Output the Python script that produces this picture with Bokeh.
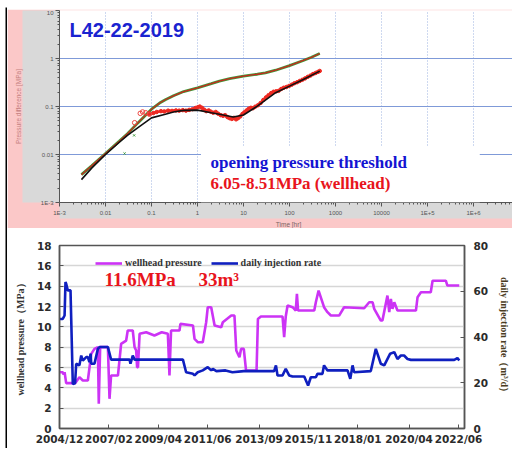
import math
from bokeh.plotting import figure
from bokeh.models import (Range1d, LinearAxis, FixedTicker, CustomJSTickFormatter, Label,
                          Title, BoxAnnotation, Legend, LegendItem, Spacer)
from bokeh.layouts import column, row
from bokeh.embed import file_html
from bokeh.resources import INLINE

# ---------------- top panel data (log-log diagnostic) ----------------
t_dp = [0.003, 0.005, 0.01, 0.02, 0.03, 0.05, 0.1, 0.15, 0.2, 0.3, 0.5, 1, 2, 3, 5, 10, 20, 30,
        50, 100, 200, 300, 455]
dp = [0.0038, 0.0058, 0.0105, 0.019, 0.027, 0.045, 0.088, 0.118, 0.138, 0.167, 0.205, 0.245,
      0.30, 0.338, 0.38, 0.43, 0.47, 0.50, 0.57, 0.71, 0.91, 1.06, 1.27]

t_model = [0.003, 0.005, 0.01, 0.02, 0.03, 0.05, 0.1, 0.2, 0.3, 0.5, 1, 2, 3, 6, 10, 20, 50,
           100, 200, 455]
deriv_model = [0.003, 0.0052, 0.0100, 0.018, 0.025, 0.036, 0.058, 0.069, 0.077, 0.083, 0.084,
               0.074, 0.069, 0.0605, 0.0666, 0.102, 0.194, 0.266, 0.366, 0.545]

t_deriv = [0.09, 0.11, 0.13, 0.16, 0.19, 0.23, 0.28, 0.34, 0.4, 0.48, 0.56, 0.66, 0.78, 0.9,
           1.02, 1.12, 1.25, 1.4, 1.55, 1.75, 1.95, 2.2, 2.5, 2.8, 3.2, 3.6, 4.0, 4.5, 5.0,
           5.6, 6.2, 6.9, 7.6, 8.5, 9.5, 10.5, 11.7, 13, 14.5, 16, 18, 20.5, 23.5, 27, 31,
           35, 40, 45, 51, 58, 66, 75, 86, 98, 112, 128, 146, 167, 190, 218, 250, 285, 325,
           370, 415, 455]
deriv = [0.070, 0.073, 0.077, 0.080, 0.079, 0.082, 0.081, 0.083, 0.082, 0.084, 0.082, 0.085,
         0.088, 0.093, 0.097, 0.100, 0.094, 0.086, 0.080, 0.083, 0.078, 0.074, 0.077, 0.071,
         0.066, 0.064, 0.066, 0.060, 0.057, 0.055, 0.058, 0.054, 0.057, 0.062, 0.070, 0.076,
         0.083, 0.090, 0.094, 0.092, 0.099, 0.106, 0.118, 0.137, 0.155, 0.172, 0.19, 0.203,
         0.207, 0.212, 0.232, 0.246, 0.255, 0.268, 0.285, 0.305, 0.32, 0.34, 0.36, 0.385,
         0.415, 0.44, 0.475, 0.50, 0.525, 0.55]

t_circ = [0.043, 0.057, 0.064, 0.075, 0.09]
circ = [0.046, 0.072, 0.077, 0.074, 0.069]
t_green = [0.026, 0.042]
green_pts = [0.0105, 0.025]

top_x_ticks = [1e-3, 1e-2, 1e-1, 1, 10, 100, 1000, 10000, 1e5, 1e6, 1e7]
top_x_labels = ["1E-3", "0.01", "0.1", "1", "10", "100", "1000", "10000", "1E+5", "1E+6", "1E+7"]
top_y_ticks = [1e-3, 1e-2, 1e-1, 1, 10]
top_y_labels = ["1E-3", "0.01", "0.1", "1", "10"]

# ---------------- bottom panel data (time series) ----------------
p_year = [2004.87, 2005.06, 2005.10, 2005.14, 2005.21, 2005.60, 2005.79, 2005.94, 2006.16,
          2006.31, 2006.45, 2006.60, 2006.64, 2006.70, 2007.04, 2007.11, 2007.18, 2007.48,
          2007.62, 2007.84, 2007.91, 2008.13, 2008.21, 2008.28, 2008.32, 2008.36, 2008.43,
          2008.72, 2009.08, 2009.40, 2009.67, 2009.74, 2009.81, 2010.18, 2010.22, 2010.77,
          2010.84, 2010.98, 2011.20, 2011.35, 2011.42, 2011.57, 2011.72, 2012.01, 2012.08,
          2012.45, 2012.59, 2012.67, 2012.81, 2012.88, 2013.00, 2013.10, 2013.56, 2013.62,
          2013.75, 2014.70, 2014.77, 2014.84, 2014.92, 2015.14, 2015.28, 2015.33, 2015.38,
          2016.09, 2016.16, 2016.28, 2016.52, 2016.67, 2016.82, 2017.18, 2017.40, 2018.28,
          2018.50, 2018.65, 2018.72, 2019.01, 2019.08, 2019.30, 2019.38, 2019.45, 2019.52,
          2019.60, 2019.74, 2020.55, 2020.62, 2020.77, 2021.20, 2021.28, 2021.86, 2021.93,
          2022.45]
p_val = [5.54, 5.54, 5.30, 5.54, 4.46, 4.46, 5.05, 4.72, 4.72,
         7.34, 7.83, 8.00, 2.43, 8.00, 8.00, 2.92, 5.21, 5.21,
         8.32, 8.65, 9.64, 9.64, 8.00, 7.67, 6.03, 6.03, 9.31,
         9.47, 9.15, 9.47, 9.31, 5.21, 9.64, 9.64, 10.29, 10.13,
         8.82, 8.49, 8.49, 10.45, 11.93, 11.93, 10.13, 9.96, 10.45,
         11.11, 11.11, 7.67, 7.01, 7.83, 7.83, 5.70, 5.70, 10.78,
         11.01, 11.01, 8.98, 11.01, 12.09, 11.93, 11.60, 13.24, 11.60,
         11.60, 12.42, 13.57, 11.93, 11.44, 11.11, 11.11, 11.93, 11.83,
         12.42, 12.42, 11.77, 10.62, 10.62, 13.07, 11.44, 12.75, 11.77,
         12.42, 11.60, 11.60, 12.90, 13.40, 13.40, 14.54, 14.54, 14.06,
         14.06]

q_year = [2004.87, 2005.06, 2005.14, 2005.18, 2005.21, 2005.28, 2005.40, 2005.50, 2005.60,
          2005.65, 2005.79, 2005.87, 2005.94, 2006.09, 2006.16, 2006.23, 2006.28, 2006.31,
          2006.45, 2006.60, 2006.67, 2007.04, 2007.18, 2007.99, 2008.03, 2008.13, 2008.21,
          2010.33, 2010.47, 2010.77, 2010.84, 2010.98, 2011.20, 2011.42, 2011.57, 2011.64,
          2011.80, 2012.20, 2012.50, 2013.00, 2014.33, 2014.41, 2014.48, 2014.70, 2014.84,
          2014.99, 2015.14, 2015.65, 2015.82, 2015.94, 2016.16, 2016.23, 2016.45, 2016.52,
          2016.67, 2017.55, 2017.67, 2017.77, 2017.84, 2018.57, 2018.79, 2019.01, 2019.16,
          2019.42, 2019.60, 2019.74, 2019.89, 2020.03, 2020.18, 2020.33, 2022.23, 2022.37,
          2022.45]
q_val = [47.9, 47.9, 49.4, 64.0, 63.3, 60.4, 60.4, 19.5, 19.8,
         28.3, 27.6, 31.9, 29.7, 31.2, 31.2, 29.0, 32.7, 28.3,
         28.3, 34.8, 35.6, 35.6, 30.1, 30.1, 28.3, 31.9, 30.1,
         30.1, 24.6, 23.9, 23.2, 24.6, 25.4, 26.8, 25.4, 26.1,
         25.1, 25.4, 24.6, 25.1, 25.1, 27.6, 23.2, 23.2, 26.1,
         23.2, 22.7, 22.7, 18.8, 22.4, 22.4, 23.9, 23.9, 27.6,
         25.4, 25.4, 21.7, 27.6, 24.6, 25.1, 34.8, 28.3, 27.6,
         32.7, 33.4, 30.4, 31.9, 31.9, 30.4, 30.0, 30.0, 30.8,
         29.7]

date_ticks = [2004.917, 2007.083, 2009.25, 2011.417, 2013.667, 2015.833, 2018.0, 2020.25, 2022.417]
date_labels = ["2004/12", "2007/02", "2009/04", "2011/06", "2013/09", "2015/11", "2018/01",
               "2020/04", "2022/06"]
pressure_ticks = [0, 2, 4, 6, 8, 10, 12, 14, 16, 18]
rate_ticks = [0, 20, 40, 60, 80]

PINK = "#fbc8c8"
GREY = "#d9d9d9"
MAGENTA = "#cc33f5"
BLUE = "#0f1fbf"

LOG_JS = """
const lt = Math.log10(tick);
for (let i = 0; i < vals.length; i++) {
  if (Math.abs(Math.log10(vals[i]) - lt) < 1e-6) return labs[i];
}
return "";
"""
LIN_JS = """
for (let i = 0; i < vals.length; i++) {
  if (Math.abs(vals[i] - tick) < 1e-6) return labs[i];
}
return "";
"""


def black_bar(w, h):
    f = figure(width=w, height=h, output_backend="svg", toolbar_location=None, title=None,
               x_axis_location=None, y_axis_location=None, min_border=0,
               background_fill_color="black", border_fill_color="black",
               outline_line_color=None)
    f.grid.visible = False
    return f


# ---------------- top figure ----------------
top = figure(frame_width=458, frame_height=192, x_axis_type="log", y_axis_type="log",
             x_range=Range1d(1e-3, 9.06e6), y_range=Range1d(1e-3, 10),
             output_backend="svg", toolbar_location=None, title=None,
             min_border_left=43, min_border_right=0, min_border_top=1, min_border_bottom=26,
             border_fill_color=PINK, background_fill_color="white", outline_line_color=None)

minor_x = [m * 10.0 ** e for e in range(-3, 7) for m in range(2, 10)]
minor_y = [m * 10.0 ** e for e in range(-3, 1) for m in range(2, 10)]

xa = top.xaxis[0]
xa.ticker = FixedTicker(ticks=top_x_ticks, minor_ticks=minor_x)
xa.formatter = CustomJSTickFormatter(args=dict(vals=top_x_ticks, labs=top_x_labels), code=LOG_JS)
ya = top.yaxis[0]
ya.ticker = FixedTicker(ticks=top_y_ticks, minor_ticks=minor_y)
ya.formatter = CustomJSTickFormatter(args=dict(vals=top_y_ticks, labs=top_y_labels), code=LOG_JS)

for ax in (xa, ya):
    ax.background_fill_color = GREY
    ax.major_label_text_font = "Liberation Sans"
    ax.major_label_text_font_size = "6px"
    ax.major_label_text_color = "#555555"
    ax.axis_line_color = "#555555"
    ax.major_tick_line_color = "#555555"
    ax.minor_tick_line_color = "#555555"
    ax.major_tick_in = 0
    ax.major_tick_out = 4
    ax.minor_tick_in = 0
    ax.minor_tick_out = 2
xa.major_label_standoff = 3
ya.major_label_standoff = 2
ya.axis_label = " "
ya.axis_label_text_font_size = "9px"
ya.axis_label_standoff = 2

top.xgrid.grid_line_color = "#9db2e0"
top.xgrid.grid_line_dash = "1 2"
top.xgrid.grid_line_width = 1
top.ygrid.grid_line_color = "#7f9ad8"
top.ygrid.grid_line_width = 1

top.add_layout(Title(text="Pressure difference [MPa]", align="center", text_font="Liberation Sans",
                     text_font_size="6.5px", text_font_style="normal", text_color="#c58080",
                     standoff=1), "left")
top.add_layout(Title(text="Time [hr]", align="center", text_font="Liberation Sans",
                     text_font_size="6.5px", text_font_style="normal", text_color="#7a6464",
                     standoff=1), "below")

top.line(t_dp, dp, line_color="#3f9a3a", line_width=2.8)
top.line(t_dp, dp, line_color="#c8281e", line_width=1.3)
top.line(t_deriv, deriv, line_color="#ee2a22", line_width=2.6)
top.scatter(t_deriv, deriv, size=3.5, color="#ee2a22")
top.scatter(t_circ, circ, size=4.5, marker="circle", fill_color=None, line_color="#ee4a44",
            line_width=1)
top.scatter(t_green, green_pts, size=3, marker="x", line_color="#3f9a3a", line_width=1)
top.line(t_model, deriv_model, line_color="#111111", line_width=1.6)

top.add_layout(BoxAnnotation(left=1.19, right=1.37e6, bottom=1e-3, top=0.0151,
                             fill_color="white", fill_alpha=1.0, line_color=None))
top.add_layout(Label(x=10, y=173, x_units="screen", y_units="screen", text="L42-22-2019",
                     text_font="Liberation Sans", text_font_style="bold", text_font_size="20px",
                     text_color="#1a23d0", text_baseline="middle"))
top.add_layout(Label(x=151, y=40, x_units="screen", y_units="screen",
                     text="opening pressure threshold", text_font="Liberation Serif",
                     text_font_style="bold", text_font_size="17px", text_color="#1414d2",
                     text_baseline="middle"))
top.add_layout(Label(x=151, y=19, x_units="screen", y_units="screen",
                     text="6.05-8.51MPa (wellhead)", text_font="Liberation Serif",
                     text_font_style="bold", text_font_size="17px", text_color="#e8141c",
                     text_baseline="middle"))

# ---------------- bottom figure ----------------
bot = figure(frame_width=405, frame_height=183, x_range=Range1d(2004.917, 2022.68),
             y_range=Range1d(0, 18),
             output_backend="svg", toolbar_location=None, title=None,
             min_border_left=52, min_border_right=44, min_border_top=17, min_border_bottom=20,
             border_fill_color="white", background_fill_color="white",
             outline_line_color="#555555", outline_line_width=1.5)
bot.extra_y_ranges = {"rate": Range1d(0, 80)}
rax = LinearAxis(y_range_name="rate")
bot.add_layout(rax, "right")

bot.xaxis[0].ticker = FixedTicker(ticks=date_ticks)
bot.xaxis[0].formatter = CustomJSTickFormatter(args=dict(vals=date_ticks, labs=date_labels),
                                               code=LIN_JS)
bot.yaxis[0].ticker = FixedTicker(ticks=pressure_ticks)
rax.ticker = FixedTicker(ticks=rate_ticks)

for ax in (bot.xaxis[0], bot.yaxis[0], rax):
    ax.major_label_text_font = "DejaVu Sans"
    ax.major_label_text_font_style = "bold"
    ax.major_label_text_font_size = "10.5px"
    ax.major_label_text_color = "#2b2b2b"
    ax.axis_line_color = "#555555"
    ax.axis_line_width = 1.5
    ax.major_tick_line_color = "#555555"
    ax.major_tick_in = 4
    ax.major_tick_out = 0
    ax.minor_tick_line_color = None
    ax.axis_label_text_font = "Liberation Serif"
    ax.axis_label_text_font_style = "bold"
    ax.axis_label_text_font_size = "10px"
bot.xaxis[0].major_label_standoff = 4
bot.yaxis[0].major_label_standoff = 8
bot.yaxis[0].axis_label = "wellhead pressure（MPa）"
bot.yaxis[0].axis_label_standoff = 8
bot.yaxis[0].axis_label_text_color = "#333333"
rax.major_label_standoff = 9
rax.axis_label = "daily injection rate（m³/d）"
rax.axis_label_standoff = 8
rax.axis_label_text_color = "#4a3c22"

bot.xgrid.grid_line_color = None
bot.ygrid.grid_line_color = "#d6d6d6"
bot.ygrid.grid_line_width = 1.5

r_p = bot.line(p_year, p_val, line_color=MAGENTA, line_width=2.6)
r_q = bot.line(q_year, q_val, line_color=BLUE, line_width=2.6, y_range_name="rate")

legend = Legend(items=[LegendItem(label="wellhead pressure", renderers=[r_p]),
                       LegendItem(label="daily injection rate", renderers=[r_q])],
                orientation="horizontal", location=(36, 160), background_fill_alpha=0,
                border_line_color=None, label_text_font="Liberation Serif",
                label_text_font_style="bold", label_text_font_size="10px",
                label_text_color="#333333", glyph_width=27, glyph_height=10,
                label_standoff=3, spacing=9, padding=2, margin=0)
bot.add_layout(legend)

bot.add_layout(Label(x=45, y=149, x_units="screen", y_units="screen", text="11.6MPa",
                     text_font="Liberation Serif", text_font_style="bold",
                     text_font_size="19px", text_color="#e8141c", text_baseline="middle"))
bot.add_layout(Label(x=139, y=149, x_units="screen", y_units="screen", text="33m³",
                     text_font="Liberation Serif", text_font_style="bold",
                     text_font_size="19px", text_color="#e8141c", text_baseline="middle"))

right_col = column(black_bar(501, 2), top, bot, spacing=0)
body = row(Spacer(width=5, height=441), black_bar(2, 441), right_col, spacing=0)
layout = column(Spacer(width=508, height=7), body, spacing=0)

open("out.html", "w").write(file_html(layout, INLINE))
